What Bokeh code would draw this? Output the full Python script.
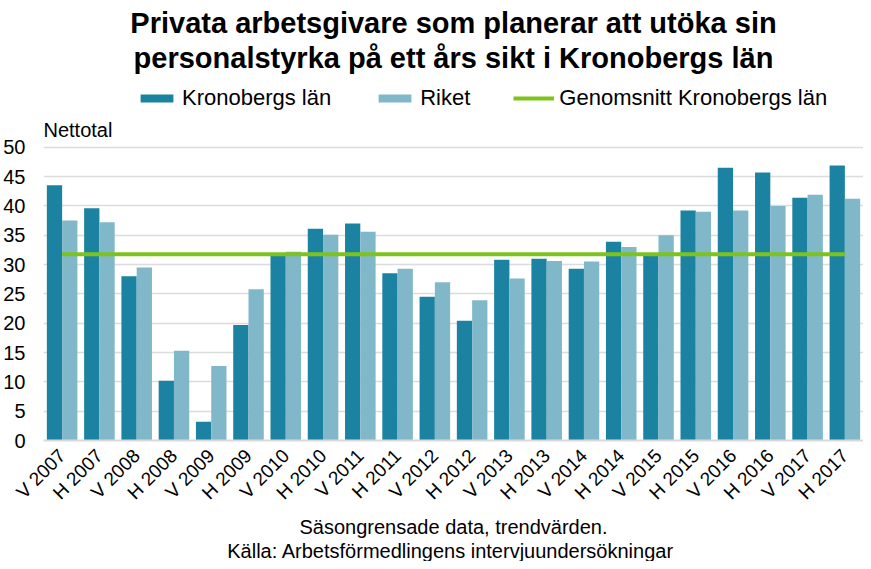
from math import pi
from bokeh.plotting import figure
from bokeh.models import (ColumnDataSource, FactorRange, Range1d, Title, Legend,
                          LegendItem, FixedTicker, Label)
from bokeh.transform import dodge
from bokeh.embed import file_html
from bokeh.resources import INLINE

categories = ["V 2007", "H 2007", "V 2008", "H 2008", "V 2009", "H 2009",
              "V 2010", "H 2010", "V 2011", "H 2011", "V 2012", "H 2012",
              "V 2013", "H 2013", "V 2014", "H 2014", "V 2015", "H 2015",
              "V 2016", "H 2016", "V 2017", "H 2017"]
kronoberg = [43.5, 39.6, 28.0, 10.2, 3.2, 19.7, 31.6, 36.1, 37.0, 28.5, 24.5,
             20.4, 30.8, 31.0, 29.3, 33.9, 31.7, 39.2, 46.5, 45.7, 41.4, 46.9]
riket = [37.5, 37.2, 29.5, 15.3, 12.7, 25.8, 32.2, 35.1, 35.6, 29.3, 27.0,
         23.9, 27.6, 30.6, 30.5, 33.0, 35.0, 39.0, 39.2, 40.0, 41.9, 41.2]
y_ticks = [0, 5, 10, 15, 20, 25, 30, 35, 40, 45, 50]
avg_kronoberg = sum(kronoberg) / len(kronoberg)

DARK = "#1B83A1"
LIGHT = "#80B8CA"
GREEN = "#7DC31C"
FONT = "Liberation Sans"

src = ColumnDataSource(dict(cat=categories, k=kronoberg, r=riket))

p = figure(x_range=FactorRange(*categories), y_range=Range1d(0, 62.4),
           width=863, height=557, output_backend="svg", toolbar_location=None,
           title=None, min_border_left=39, min_border_right=0,
           min_border_top=0, min_border_bottom=0)
p.margin = (4, 0, 0, 0)
p.outline_line_color = None
p.x_range.range_padding = 0

b1 = p.vbar(x=dodge("cat", -0.205, range=p.x_range), top="k", width=0.41,
            source=src, fill_color=DARK, line_color=None)
b2 = p.vbar(x=dodge("cat", 0.205, range=p.x_range), top="r", width=0.41,
            source=src, fill_color=LIGHT, line_color=None)
ln = p.line(x=[categories[0], categories[-1]], y=[avg_kronoberg, avg_kronoberg],
            line_color=GREEN, line_width=4)

# axes
p.yaxis.ticker = FixedTicker(ticks=y_ticks)
p.yaxis.axis_line_color = None
p.yaxis.major_tick_line_color = None
p.yaxis.minor_tick_line_color = None
p.yaxis.major_label_standoff = 12
p.yaxis.major_label_text_font = FONT
p.yaxis.major_label_text_font_size = "20px"
p.yaxis.major_label_text_color = "#000000"

p.xaxis.axis_line_color = "#d9d9d9"
p.xaxis.axis_line_width = 2
p.xaxis.major_tick_line_color = None
p.xaxis.minor_tick_line_color = None
p.xaxis.major_label_orientation = pi / 4
p.xaxis.major_label_standoff = 6
p.xaxis.major_label_text_font = FONT
p.xaxis.major_label_text_font_size = "19px"
p.xaxis.major_label_text_color = "#000000"

p.xgrid.grid_line_color = None
p.ygrid.grid_line_color = "#dcdcdc"
p.ygrid.grid_line_width = 1.5

# inside frame: Nettotal label and legend
p.add_layout(Label(x=0, y=52.9, text="Nettotal", text_font=FONT,
                   text_font_size="20px", text_baseline="middle",
                   text_color="#000000"))

legend = Legend(items=[LegendItem(label="Kronobergs län", renderers=[b1]),
                       LegendItem(label="Riket", renderers=[b2]),
                       LegendItem(label="Genomsnitt Kronobergs län", renderers=[ln])],
                orientation="horizontal", location=(93, 329),
                label_text_font=FONT, label_text_font_size="22px",
                label_text_color="#000000",
                glyph_width=41, glyph_height=10, label_standoff=5,
                spacing=43, padding=0, margin=0, border_line_color=None,
                background_fill_alpha=0)
p.add_layout(legend)

# above: title lines
p.add_layout(Title(text="personalstyrka på ett års sikt i Kronobergs län",
                   align="center", offset=-7, text_font=FONT,
                   text_color="#000000",
                   text_font_size="29px", text_font_style="bold", standoff=2),
             "above")
p.add_layout(Title(text="Privata arbetsgivare som planerar att utöka sin",
                   align="center", offset=-7, text_font=FONT,
                   text_color="#000000",
                   text_font_size="29px", text_font_style="bold", standoff=0),
             "above")

# below: footer
p.add_layout(Title(text="Säsongrensade data, trendvärden.", align="center",
                   offset=-19, text_font=FONT,
                   text_color="#000000",
                   text_font_size="20px", text_font_style="normal", standoff=0),
             "below")
p.add_layout(Title(text="Källa: Arbetsförmedlingens  intervjuundersökningar",
                   align="center", offset=-19, text_font=FONT,
                   text_color="#000000",
                   text_font_size="20px", text_font_style="normal", standoff=0),
             "below")

open("out.html", "w").write(file_html(p, INLINE))
